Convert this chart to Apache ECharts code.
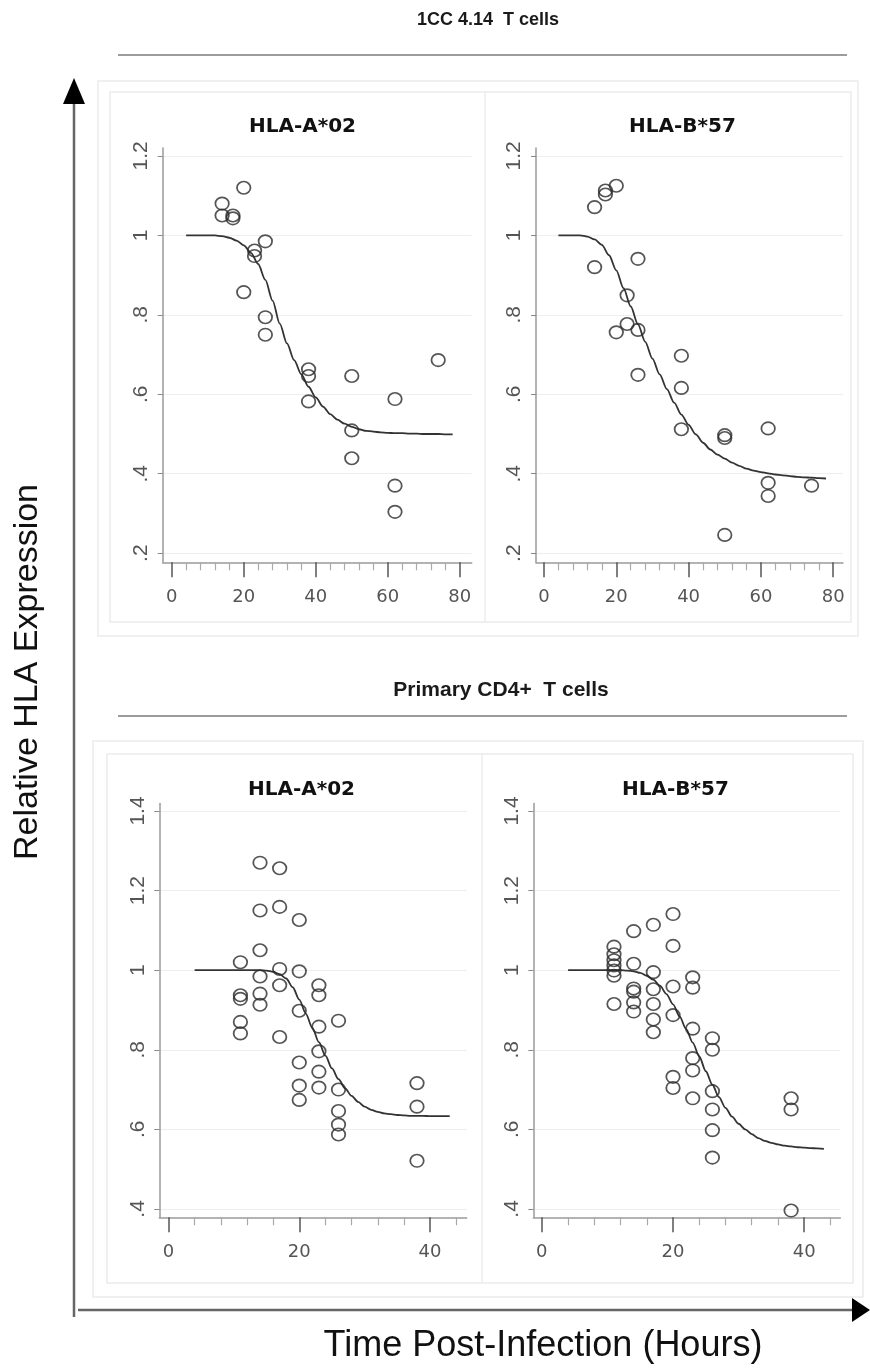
<!DOCTYPE html>
<html>
<head>
<meta charset="utf-8">
<script src="https://cdn.jsdelivr.net/npm/echarts@6/dist/echarts.min.js"></script>
<style>
html,body{margin:0;padding:0;background:#fff;}
#chart{width:870px;height:1370px;}
</style>
</head>
<body>
<div id="chart"></div>
<script>
// ---------- data ----------
const sectionTitles = ['1CC 4.14  T cells', 'Primary CD4+  T cells'];
const panelTitles = ['HLA-A*02', 'HLA-B*57', 'HLA-A*02', 'HLA-B*57'];
const xLabel = 'Time Post-Infection (Hours)';
const yLabel = 'Relative HLA Expression';

const xTicksTop = [0, 20, 40, 60, 80];
const xMinorTop = [4, 8, 12, 16, 24, 28, 32, 36, 44, 48, 52, 56, 64, 68, 72, 76];
const xTicksBottom = [0, 20, 40];
const xMinorBottom = [4, 8, 12, 16, 24, 28, 32, 36, 44];
const yTicksTop = [0.2, 0.4, 0.6, 0.8, 1, 1.2];
const yTicksBottom = [0.4, 0.6, 0.8, 1, 1.2, 1.4];

// 1CC 4.14 T cells, HLA-A*02
const ccA02Points = [[14,1.08],[14,1.05],[17,1.05],[17,1.043],[20,1.12],[20,0.857],[23,0.962],[23,0.948],
  [26,0.985],[26,0.794],[26,0.75],[38,0.663],[38,0.646],[38,0.582],[50,0.646],[50,0.509],[50,0.439],
  [62,0.588],[62,0.37],[62,0.304],[74,0.686]];
const ccA02Curve = [[4,1],[6,1],[8,1],[10,1],[12,1],[14,0.998],[16,0.994],[18,0.987],[20,0.975],[22,0.956],
  [24,0.928],[26,0.888],[28,0.836],[30,0.778],[32,0.728],[34,0.686],[36,0.65],[38,0.619],[40,0.592],[42,0.569],
  [44,0.55],[46,0.536],[48,0.526],[50,0.518],[52,0.512],[54,0.508],[56,0.506],[58,0.504],[60,0.503],[62,0.502],
  [64,0.502],[66,0.501],[68,0.501],[70,0.5],[72,0.5],[74,0.5],[76,0.499],[78,0.499]];

// 1CC 4.14 T cells, HLA-B*57
const ccB57Points = [[14,1.071],[14,0.92],[17,1.103],[17,1.113],[20,1.125],[20,0.756],[23,0.849],[23,0.777],
  [26,0.941],[26,0.762],[26,0.649],[38,0.697],[38,0.616],[38,0.512],[50,0.497],[50,0.49],[50,0.246],
  [62,0.514],[62,0.377],[62,0.344],[74,0.37]];
const ccB57Curve = [[4,1],[6,1],[8,1],[10,1],[12,0.997],[14,0.99],[16,0.976],[18,0.95],[20,0.912],[22,0.867],
  [24,0.821],[26,0.776],[28,0.732],[30,0.69],[32,0.65],[34,0.613],[36,0.579],[38,0.549],[40,0.523],[42,0.499],
  [44,0.478],[46,0.461],[48,0.448],[50,0.438],[52,0.428],[54,0.42],[56,0.413],[58,0.408],[60,0.404],[62,0.401],
  [64,0.398],[66,0.396],[68,0.394],[70,0.392],[72,0.391],[74,0.39],[76,0.389],[78,0.388]];

// Primary CD4+ T cells, HLA-A*02
const cd4A02Points = [[11,1.02],[11,0.937],[11,0.928],[11,0.87],[11,0.841],
  [14,1.27],[14,1.15],[14,1.05],[14,0.984],[14,0.941],[14,0.913],
  [17,1.256],[17,1.159],[17,1.003],[17,0.962],[17,0.832],
  [20,1.126],[20,0.997],[20,0.898],[20,0.768],[20,0.71],[20,0.674],
  [23,0.962],[23,0.937],[23,0.858],[23,0.796],[23,0.745],[23,0.705],
  [26,0.873],[26,0.7],[26,0.646],[26,0.612],[26,0.587],
  [38,0.716],[38,0.657],[38,0.521]];
const cd4A02Curve = [[4,1],[5,1],[6,1],[7,1],[8,1],[9,1],[10,1],[11,1],[12,1],[13,1],[14,1],[15,0.999],
  [16,0.996],[17,0.99],[18,0.979],[19,0.957],[20,0.926],[21,0.891],[22,0.855],[23,0.819],[24,0.785],[25,0.753],
  [26,0.726],[27,0.703],[28,0.684],[29,0.669],[30,0.657],[31,0.649],[32,0.644],[33,0.64],[34,0.638],[35,0.636],
  [36,0.635],[37,0.634],[38,0.634],[39,0.634],[40,0.633],[41,0.633],[42,0.633],[43,0.633]];

// Primary CD4+ T cells, HLA-B*57
const cd4B57Points = [[11,1.059],[11,1.04],[11,1.025],[11,1.012],[11,0.999],[11,0.986],[11,0.915],
  [14,1.098],[14,1.016],[14,0.954],[14,0.946],[14,0.919],[14,0.896],
  [17,1.114],[17,0.995],[17,0.952],[17,0.915],[17,0.876],[17,0.844],
  [20,1.141],[20,1.061],[20,0.959],[20,0.887],[20,0.732],[20,0.704],
  [23,0.982],[23,0.956],[23,0.853],[23,0.779],[23,0.748],[23,0.678],
  [26,0.829],[26,0.8],[26,0.696],[26,0.65],[26,0.598],[26,0.529],
  [38,0.678],[38,0.65],[38,0.396]];
const cd4B57Curve = [[4,1],[5,1],[6,1],[7,1],[8,1],[9,1],[10,1],[11,1],[12,1],[13,0.999],[14,0.997],
  [15,0.993],[16,0.986],[17,0.976],[18,0.961],[19,0.94],[20,0.914],[21,0.884],[22,0.852],[23,0.818],[24,0.783],
  [25,0.746],[26,0.712],[27,0.681],[28,0.654],[29,0.632],[30,0.614],[31,0.6],[32,0.588],[33,0.578],[34,0.571],
  [35,0.566],[36,0.562],[37,0.559],[38,0.557],[39,0.555],[40,0.554],[41,0.553],[42,0.552],[43,0.551]];

// ---------- layout ----------
const panels = [
  {grid:{left:162.7, top:148, width:309, height:414.3}, x:[-2.5,83.3], y:[0.177,1.22], major:xTicksTop, minor:xMinorTop, yt:yTicksTop, pts:ccA02Points, curve:ccA02Curve, title:[302.5,127]},
  {grid:{left:536, top:148, width:307, height:414.3}, x:[-2.2,82.7], y:[0.177,1.22], major:xTicksTop, minor:xMinorTop, yt:yTicksTop, pts:ccB57Points, curve:ccB57Curve, title:[682.5,127]},
  {grid:{left:159.3, top:803.4, width:307.4, height:413.9}, x:[-1.4,45.6], y:[0.379,1.419], major:xTicksBottom, minor:xMinorBottom, yt:yTicksBottom, pts:cd4A02Points, curve:cd4A02Curve, title:[301.5,790]},
  {grid:{left:533.3, top:803.4, width:307, height:413.9}, x:[-1.3,45.5], y:[0.379,1.419], major:xTicksBottom, minor:xMinorBottom, yt:yTicksBottom, pts:cd4B57Points, curve:cd4B57Curve, title:[675.5,790]}
];

const yFmt = v => { const s = String(+(+v).toFixed(2)); return s.replace(/^0\./, '.'); };

const grids = [], xAxes = [], yAxes = [], series = [];
panels.forEach((p, i) => {
  grids.push(Object.assign({containLabel:false}, p.grid));
  xAxes.push({
    type:'value', gridIndex:i, position:'bottom', min:p.x[0], max:p.x[1],
    axisLine:{show:true, onZero:false, lineStyle:{color:'#9a9a9a', width:1.5}},
    axisTick:{show:true, customValues:p.major, length:15, lineStyle:{color:'#555', width:1.5}},
    axisLabel:{customValues:p.major, margin:26, fontSize:18, fontFamily:'DejaVu Sans', color:'#555'},
    splitLine:{show:false}
  });
  xAxes.push({
    type:'value', gridIndex:i, position:'bottom', offset:0, min:p.x[0], max:p.x[1],
    axisLine:{show:false, onZero:false},
    axisTick:{show:true, customValues:p.minor, length:8, lineStyle:{color:'#aaa', width:1.2}},
    axisLabel:{show:false},
    splitLine:{show:false}
  });
  yAxes.push({
    type:'value', gridIndex:i, min:p.y[0], max:p.y[1],
    axisLine:{show:true, onZero:false, lineStyle:{color:'#9a9a9a', width:1.5}},
    axisTick:{show:true, customValues:p.yt, length:5, lineStyle:{color:'#888', width:1}},
    axisLabel:{customValues:p.yt, rotate:90, margin:11, fontSize:21, fontFamily:'Liberation Sans', color:'#555', formatter:yFmt},
    splitLine:{show:true, lineStyle:{color:'#eeeeee', width:1.2}}
  });
  series.push({
    type:'line', xAxisIndex:2*i, yAxisIndex:i, data:p.curve, showSymbol:false, smooth:0.3, smoothMonotone:'x',
    lineStyle:{color:'#333', width:1.8}, silent:true, z:2
  });
  series.push({
    type:'scatter', xAxisIndex:2*i, yAxisIndex:i, data:p.pts, symbol:'circle', symbolSize:[13.5,12.5],
    itemStyle:{color:'rgba(0,0,0,0)', borderColor:'#2a2a2a', borderWidth:1.7}, z:3
  });
});

const gfx = [];
// boxes
gfx.push({type:'rect', shape:{x:98, y:81, width:760, height:555}, style:{fill:'none', stroke:'#ececec', lineWidth:1.5}, z:-10});
gfx.push({type:'rect', shape:{x:110, y:92, width:741, height:530}, style:{fill:'none', stroke:'#ececec', lineWidth:1.5}, z:-10});
gfx.push({type:'line', shape:{x1:485, y1:92, x2:485, y2:622}, style:{stroke:'#ececec', lineWidth:1.5}, z:-10});
gfx.push({type:'rect', shape:{x:93, y:741, width:770, height:556}, style:{fill:'none', stroke:'#ececec', lineWidth:1.5}, z:-10});
gfx.push({type:'rect', shape:{x:107, y:754, width:746, height:529}, style:{fill:'none', stroke:'#ececec', lineWidth:1.5}, z:-10});
gfx.push({type:'line', shape:{x1:482, y1:754, x2:482, y2:1283}, style:{stroke:'#ececec', lineWidth:1.5}, z:-10});
// rules under section titles
gfx.push({type:'line', shape:{x1:118, y1:55, x2:847, y2:55}, style:{stroke:'#9c9c9c', lineWidth:2}});
gfx.push({type:'line', shape:{x1:118, y1:716, x2:847, y2:716}, style:{stroke:'#9c9c9c', lineWidth:2}});
// arrows
gfx.push({type:'line', shape:{x1:74, y1:100, x2:74, y2:1317}, style:{stroke:'#666', lineWidth:2.5}});
gfx.push({type:'polygon', shape:{points:[[63,104],[85,104],[74,78]]}, style:{fill:'#000'}});
gfx.push({type:'line', shape:{x1:78, y1:1310, x2:856, y2:1310}, style:{stroke:'#666', lineWidth:2.5}});
gfx.push({type:'polygon', shape:{points:[[852,1298],[852,1322],[870,1310]]}, style:{fill:'#000'}});
// section titles
gfx.push({type:'text', style:{x:488, y:20, text:sectionTitles[0], align:'center', verticalAlign:'middle', font:'bold 18px "Liberation Sans", Arial, sans-serif', fill:'#1a1a1a'}});
gfx.push({type:'text', style:{x:501, y:690, text:sectionTitles[1], align:'center', verticalAlign:'middle', font:'bold 21px "Liberation Sans", Arial, sans-serif', fill:'#1a1a1a'}});
// panel titles
panels.forEach((p, i) => {
  gfx.push({type:'text', style:{x:p.title[0], y:p.title[1], text:panelTitles[i], align:'center', verticalAlign:'middle', font:'bold 20px "DejaVu Sans", sans-serif', fill:'#111'}});
});
// axis titles
gfx.push({type:'text', x:28, y:672, rotation:Math.PI/2, style:{x:0, y:0, text:yLabel, align:'center', verticalAlign:'middle', font:'34px "Liberation Sans", Arial, sans-serif', fill:'#111'}});
gfx.push({type:'text', style:{x:543, y:1346, text:xLabel, align:'center', verticalAlign:'middle', font:'36px "Liberation Sans", Arial, sans-serif', fill:'#111'}});

const chart = echarts.init(document.getElementById('chart'), null, {renderer:'canvas'});
chart.setOption({
  backgroundColor:'#fff',
  animation:false,
  grid:grids,
  xAxis:xAxes,
  yAxis:yAxes,
  series:series,
  graphic:gfx
});
</script>
</body>
</html>
